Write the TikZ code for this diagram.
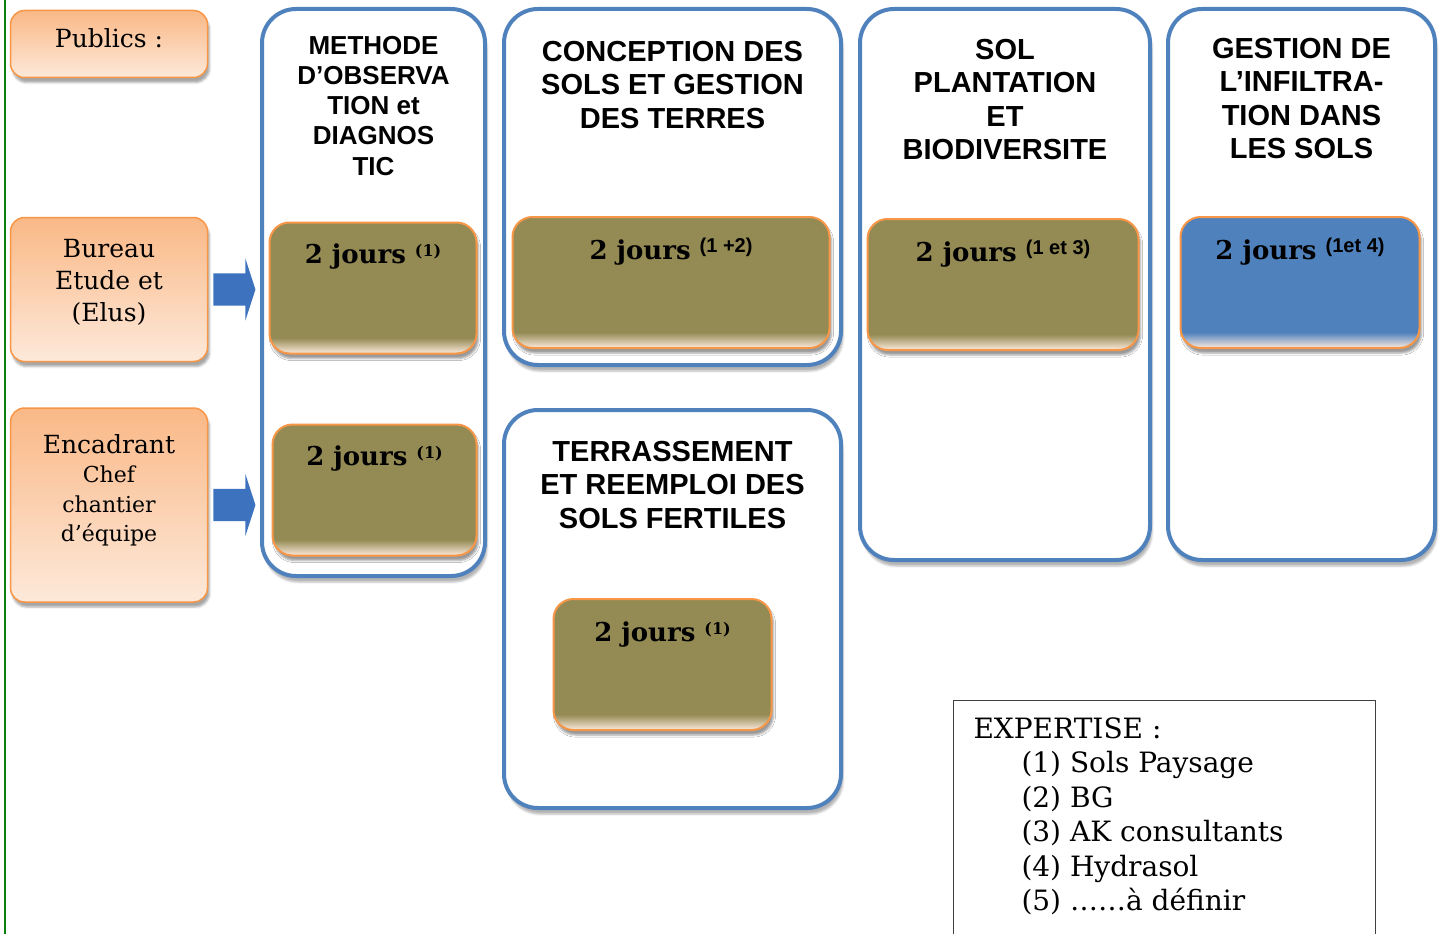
\documentclass[tikz,border=0pt]{standalone}
\usepackage{fontspec}
\setmainfont{DejaVu Serif}
\newfontfamily\headfont{Liberation Sans}
\usetikzlibrary{positioning,shapes.arrows,shadows.blur}

\definecolor{colblue}{HTML}{4F81BD}
\definecolor{arrblue}{HTML}{3C72BE}
\definecolor{orgline}{HTML}{F79646}
\definecolor{orgtop}{HTML}{FAB886}
\definecolor{orgbot}{HTML}{FDE9DA}
\definecolor{olive}{HTML}{948A54}
\definecolor{cream}{HTML}{FDEBDD}
\definecolor{greenline}{HTML}{0A7F0A}
\pgfdeclareverticalshading{olivefade}{100bp}{color(0bp)=(cream); color(25bp)=(cream); color(31bp)=(olive); color(100bp)=(olive)}
\pgfdeclareverticalshading{bluefade}{100bp}{color(0bp)=(cream); color(25bp)=(cream); color(31bp)=(colblue); color(100bp)=(colblue)}

\newcommand\renvoi[1]{\raisebox{7pt}{\fontsize{16}{16}\selectfont #1}}
\newcommand\renvoisf[1]{\raisebox{7pt}{\headfont\bfseries\fontsize{20}{20}\selectfont #1}}

\tikzset{
  public/.style={draw=orgline, line width=1.5pt, rounded corners=14pt, top color=orgtop, bottom color=orgbot,
    minimum width=197pt, blur shadow={shadow xshift=2pt, shadow yshift=-5pt, shadow opacity=35}},
  pubtext/.style={font=\fontsize{25}{32}\selectfont, align=center, inner sep=0pt},
  module/.style={draw=colblue, line width=4pt, rounded corners=34pt, fill=white,
    blur shadow={shadow xshift=2pt, shadow yshift=-6pt, shadow opacity=30}},
  modtitle/.style={font=\headfont\bfseries\fontsize{29}{33.5}\selectfont, align=center, inner sep=0pt},
  jours/.style={draw=orgline, line width=2pt, rounded corners=20pt, shading=olivefade, minimum height=131pt,
    blur shadow={shadow xshift=2pt, shadow yshift=-5pt, shadow opacity=40}},
  jourstext/.style={font=\bfseries\fontsize{26}{30}\selectfont, inner sep=0pt},
  bluearrow/.style={single arrow, fill=arrblue, inner xsep=0pt, inner ysep=16pt, minimum height=42pt,
    single arrow head extend=15pt, single arrow tip angle=144},
  expbox/.style={draw=black!75, line width=1pt, inner xsep=20pt, inner ysep=17pt, anchor=north west,
    font=\fontsize{28}{34.5}\selectfont}
}

\begin{document}
\begin{tikzpicture}[x=1pt,y=-1pt]
\useasboundingbox (0,0) rectangle (1443,934);
\clip (0,0) rectangle (1443,934);
\draw[greenline, line width=2pt] (5,0) -- (5,934);

\node[public, minimum height=67pt] (pub) at (109,44) {};
\node[public, minimum height=144pt] (bur) at (109,289.5) {};
\node[public, minimum height=194pt] (enc) at (109,505) {};
\node[pubtext, below=19pt of pub.north] {Publics :};
\node[pubtext, below=22pt of bur.north] {Bureau\\Etude et\\(Elus)};
\node[pubtext, font=\fontsize{22}{29.5}\selectfont, below=27pt of enc.north]
  {{\fontsize{25}{29.5}\selectfont Encadrant}\\Chef\\chantier\\d’équipe};

\node[module, minimum width=223pt, minimum height=567pt] (obs) at (373.5,292.5) {};
\node[module, minimum width=337pt, minimum height=356pt] (conc) at (672.5,187) {};
\node[module, minimum width=337pt, minimum height=398pt] (terr) at (672.5,609) {};
\node[module, minimum width=290pt, minimum height=551pt] (plant) at (1005,284.5) {};
\node[module, minimum width=267pt, minimum height=551pt] (infil) at (1301.5,284.5) {};

\node[modtitle, font=\headfont\bfseries\fontsize{26}{30.2}\selectfont, below=29pt of obs.north]
  {METHODE\\D’OBSERVA\\TION et\\DIAGNOS\\TIC};
\node[modtitle, below=34pt of conc.north] {CONCEPTION DES\\SOLS ET GESTION\\DES TERRES};
\node[modtitle, below=33pt of terr.north] {TERRASSEMENT\\ET REEMPLOI DES\\SOLS FERTILES};
\node[modtitle, below=32pt of plant.north] {SOL\\PLANTATION\\ET\\BIODIVERSITE};
\node[modtitle, below=31pt of infil.north] {GESTION DE\\L’INFILTRA-\\TION DANS\\LES SOLS};

\node[jours, minimum width=207pt] (obs1) at (373,288) {};
\node[jours, minimum width=204pt] (obs2) at (374.5,490) {};
\node[jours, minimum width=317pt] (conc1) at (671,282.5) {};
\node[jours, minimum width=218pt] (terr1) at (662.5,664.5) {};
\node[jours, minimum width=271pt] (plant1) at (1003,284.5) {};
\node[jours, shading=bluefade, minimum width=239pt] (infil1) at (1300,282.5) {};

\node[jourstext, below=42pt of obs1.north, anchor=base] {2 jours \renvoi{(1)}};
\node[jourstext, below=42pt of obs2.north, anchor=base] {2 jours \renvoi{(1)}};
\node[jourstext, below=43pt of conc1.north, anchor=base] {2 jours \renvoisf{(1 +2)}};
\node[jourstext, below=43pt of terr1.north, anchor=base] {2 jours \renvoi{(1)}};
\node[jourstext, below=43pt of plant1.north, anchor=base] {2 jours \renvoisf{(1 et 3)}};
\node[jourstext, below=43pt of infil1.north, anchor=base] {2 jours \renvoisf{(1et 4)}};

\node[bluearrow, right=5pt of bur] (a1) {};
\node[bluearrow, right=5pt of enc] (a2) {};

\node[expbox] (exp) at (953,700) {\begin{minipage}[t][250pt][t]{382pt}
EXPERTISE :\\
\hspace*{48pt}(1) Sols Paysage\\
\hspace*{48pt}(2) BG\\
\hspace*{48pt}(3) AK consultants\\
\hspace*{48pt}(4) Hydrasol\\
\hspace*{48pt}(5) ……à définir
\end{minipage}};
\end{tikzpicture}
\end{document}
